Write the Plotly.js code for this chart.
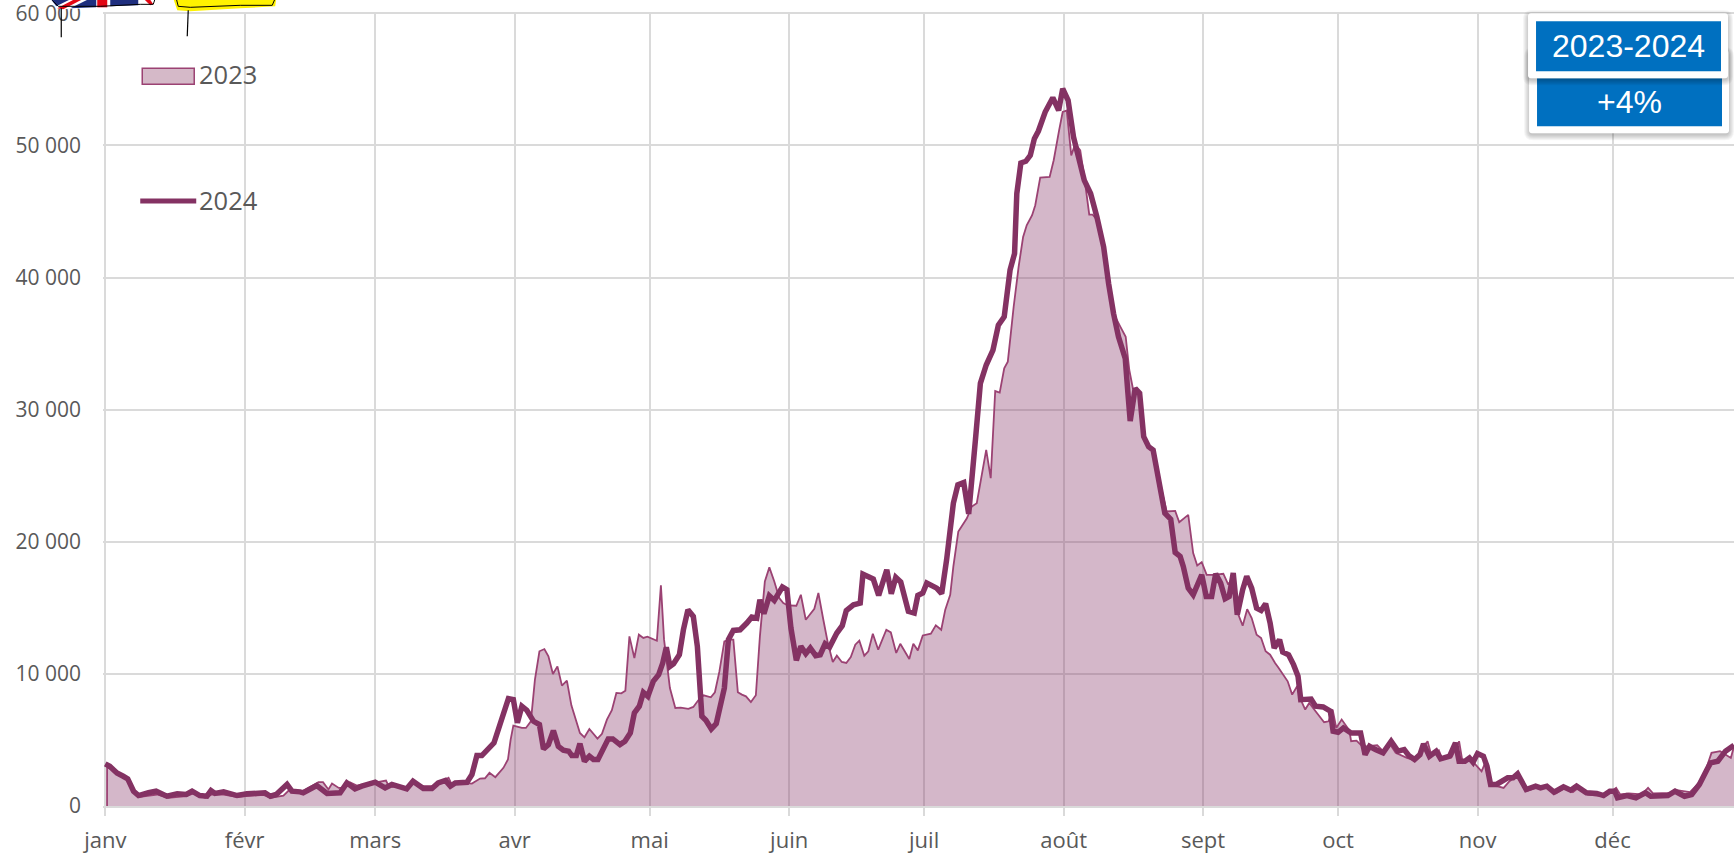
<!DOCTYPE html>
<html lang="fr">
<head>
<meta charset="utf-8">
<title>2023-2024</title>
<script src="https://cdn.plot.ly/plotly-3.0.1.min.js"></script>
<style>html,body{margin:0;padding:0;background:#fff;overflow:hidden}#chart{width:1734px;height:857px}</style>
</head>
<body>
<div id="chart"></div>
<script>
const monthLabels = ["janv","févr","mars","avr","mai","juin","juil","août","sept","oct","nov","déc"];
const monthDays = [0,31,60,91,121,152,182,213,244,274,305,335];
const yTickValues = [0,10000,20000,30000,40000,50000,60000];
const yTickLabels = ["0","10 000","20 000","30 000","40 000","50 000","60 000"];

const days2023 = [0.4,0.41,2.6,5.2,6.3,7.8,11.5,14,18,19.6,22.2,23.7,26.3,29.3,35.2,36.7,39.6,41,43.3,44.8,47.4,48.4,49.6,50.4,51.9,53,54.4,55.9,59.6,62.4,63,67,68.5,70.7,73,76.3,77,78.9,81.5,83.3,84.4,85.4,86.7,88.5,89.5,90.1,90.7,92.6,93.5,94.6,95.5,96.5,97.6,98.5,99.5,100.5,101.5,102.6,103.6,105.5,106.5,107.6,109.4,110.4,111.5,112.6,113.6,114.7,115.6,116.5,117.6,118.6,119.6,120.5,122.6,123.5,124.2,125.5,126.7,127.9,129.6,130.7,131.8,133,134.6,135.5,136.5,137.6,138.7,139.6,140.6,141.5,142.4,143.5,144.6,145.5,146.6,147.6,148.7,149.8,150.7,151.7,153.6,154.6,155.7,157.6,158.5,159.6,160.6,161.7,162.6,163.7,164.7,165.7,166.7,167.6,168.7,169.6,170.6,171.8,173.6,174.6,175.8,176.7,178.7,179.6,180.6,181.7,183.5,184.6,185.8,186.7,187.8,188.5,189.6,191.5,192.6,193.7,195.8,196.8,197.8,198.8,199.8,200.6,201.9,203,204,204.8,206,206.7,207.8,209.9,210.8,212,212.8,213.7,214.7,215.6,216.7,217.6,218.7,219.4,220.5,221.9,223,224.1,225.6,226.8,227.6,228.4,229.9,231.1,232.6,234.1,235.9,237.8,238.7,240.7,241.8,242.7,243.7,244.8,246.3,248.5,249.6,250.7,251.7,252.8,253.8,254.8,255.9,256.9,257.9,258.9,260,260.8,262.8,263.8,264.9,265.7,266.7,267.6,269,270.9,271.9,272.8,273.6,274.8,276.5,276.9,278.1,279.4,280.2,282.7,284,285.6,286.8,289.3,291,293.9,294.7,296.4,297.2,299.3,300.9,301.7,303.4,305.9,306.7,307.9,310.8,312.1,313.7,315.8,317.9,320.4,322.4,324.5,326.2,327.4,329.5,333.2,334.8,335.8,336.7,338.6,341.5,342.9,344,348.1,349.3,352.2,353.9,355.5,357,358.9,361.3,362];
const values2023 = [0,3010,2460,2000,1050,690,870,620,740,950,620,870,870,690,840,620,790,1250,1000,1300,1800,1800,1250,1700,1370,1370,1800,1550,1750,1930,1500,1370,1750,1500,1500,2130,1630,1750,1700,2080,2100,2510,2180,2890,3520,5030,6090,5910,5910,6410,9560,11710,11880,11330,9990,10570,9110,9490,7620,5530,5200,5830,5100,5460,6540,7250,8560,8530,8730,12840,11200,12970,12720,12810,12510,16700,12590,8930,7420,7450,7350,7500,8000,8380,8230,8610,10190,12460,12590,12590,8610,8430,8300,7870,8380,12840,17000,18060,17000,15740,15360,15180,15160,15990,14100,14930,16120,14100,12340,10900,11380,10900,10830,11280,12210,12510,11380,11710,13040,11830,13340,13140,11580,12280,11130,12280,11780,12910,13040,13670,13340,14860,15990,18130,20780,21780,22670,22920,26950,24810,31410,31290,33130,33630,37790,40810,43080,43960,44720,45470,47560,47620,48880,51140,52530,52650,49250,50130,49630,47610,44770,44770,44340,42070,39300,37280,36280,35520,33000,31610,31240,27710,26950,24940,22290,22340,21480,22040,19140,18210,18460,17500,17500,17580,16750,17370,14600,13650,14900,14230,12970,12720,11710,11450,10820,10450,9440,8430,9060,8050,7300,7800,7170,6340,6410,7300,5910,6540,5730,4900,4950,4520,4520,4600,4150,4650,4020,3640,3460,4900,3890,4220,3520,3720,4900,3260,3570,2630,3260,1630,1370,1880,2260,1120,1370,1370,950,1370,1050,1370,870,740,1120,1370,870,950,870,1370,950,1000,1200,1050,1630,2510,4020,4150,3640,4520];

const days2024 = [0,1,2.6,4,5,6.3,7.4,9.6,11.3,13.7,16,18,19.3,21,22.6,23.5,24.4,26.3,29.3,31.5,35.5,36.7,38,40.4,41.5,43.3,44,47,49.3,52.2,53.7,55.5,57,60,62.2,63.7,67,68.4,70.7,72.6,74,75.6,76.7,77.8,80.4,81.5,82.6,83.7,86.4,89.6,90.7,91.6,92.6,93.7,95.2,96.5,97.4,98.5,99.6,100.7,101.8,103,103.7,104.7,105.5,106.5,107.6,108.5,109.5,111.8,112.8,114.4,115.5,116.7,117.6,118.7,119.6,120.6,121.8,123,123.9,124.7,125.5,126.3,127.6,128.5,129.5,130.7,131.6,132.6,133.5,134.7,135.8,137.6,138.5,139.6,141.1,142.6,143.7,144.8,145.5,146.4,147.6,148.7,150.5,151.5,152.4,153.6,154.6,155.7,156.7,157.9,158.9,160,161,162.6,163.8,164.7,166.3,167.8,168.4,170.7,171.9,173.7,174.7,175.7,176.8,178.5,179.8,180.6,181.7,182.6,184.8,185.9,187,188.5,189.5,190.8,191.9,193.4,194.5,195.8,197.3,198.5,199.8,201.1,202.1,202.6,203.5,204.6,205.6,206.5,207.4,208.9,210.6,211.9,212.8,214,215.2,216.3,217.6,219,220.4,221.9,223,224.1,225.2,226.7,227.3,227.8,228.9,229.9,230.8,231.9,232.9,234.4,235.5,236.8,237.8,238.9,239.6,240.7,241.8,243.7,244.7,245.9,246.8,247.9,248.9,249.8,250.7,251.6,252.8,253.7,254.8,255.9,256.9,257.9,258.9,259.8,261,261.7,263,264.1,265.1,265.7,268,269,270.7,272.3,272.9,274,275.2,276.9,279,280,281,282.3,284,285.8,287.3,288.7,289.7,291,292.2,293,294.3,295.8,296.8,298.8,300.1,300.9,302.2,303.2,304,305,306.3,307.1,307.9,309.2,311.7,312.9,313.9,315.8,317.9,319,320.4,322,324.1,325.7,327,329.2,331.5,333,334.4,335.5,336.1,338.2,340.2,342.3,343.5,347.3,348.9,351,352.6,354.3,356,356.8,358.4,360.1,362];
const values2024 = [3190,3010,2500,2250,2050,1120,790,1000,1120,740,920,870,1120,790,740,1170,950,1070,790,920,1000,740,870,1630,1120,1070,1000,1550,950,1000,1750,1300,1500,1800,1370,1630,1300,1880,1320,1320,1750,1930,1500,1750,1800,2380,3820,3820,4780,8130,8050,6290,7550,7250,6410,6160,4320,4650,5710,4520,4220,4150,3820,3820,4720,3390,3770,3520,3520,5080,5080,4650,4900,5530,7040,7550,8600,8300,9440,9940,10820,12010,10570,10770,11450,13340,14850,14350,12080,6790,6490,5830,6230,8930,12590,13290,13340,13850,14300,14220,15610,14550,15910,15560,16570,16370,13470,11020,12080,11530,11960,11380,11450,12280,12030,13090,13650,14800,15230,15360,17550,17180,15940,17880,16070,17300,16950,14730,14600,15940,16120,16870,16490,16070,18640,22920,24310,24480,22110,27710,31990,33380,34510,36400,37030,40560,41820,46360,48670,48800,49250,50510,51090,52530,53610,52650,54290,53410,50640,49130,47360,46360,44590,42320,39550,37280,35520,33880,31240,29130,31610,31240,27960,27200,26950,24180,22170,21710,19190,18890,18130,16490,15990,17500,15860,15860,17580,16870,15690,15860,17630,14480,16370,17380,16490,14980,14800,15310,13850,11960,12590,11650,11450,10700,9820,8050,8100,7550,7500,7170,5660,5580,5910,5530,5530,3890,4520,4270,4020,4900,4150,4270,3820,3520,3890,4700,3770,4150,3570,3770,4780,3390,3390,3640,3310,3970,3770,3010,1630,1630,2130,2130,2430,1250,1500,1370,1500,1050,1450,1200,1500,1000,950,790,1120,1120,620,790,620,1000,740,790,1120,740,870,1630,2760,3260,3390,4150,4600];

const W = 1734, H = 857, L = 102.75, T = 11.68, B = 806.5;
const px = x => (x - L) / (W - L);
const py = y => (B - y) / (B - T);
const pt = (x, y) => px(x) + ',' + py(y);
const paperPath = pts => 'M' + pts.map(p => pt(p[0], p[1])).join('L') + 'Z';
const openPath = pts => 'M' + pts.map(p => pt(p[0], p[1])).join('L');
const poly = (pts, fill) => ({type:'path', xref:'paper', yref:'paper', layer:'above', path:paperPath(pts), fillcolor:fill, line:{width:0}});
const stroke = (pts, c, w) => ({type:'path', xref:'paper', yref:'paper', layer:'above', path:openPath(pts), line:{color:c, width:w}});
const rect = (x0,y0,x1,y1,fill,lc,lw) => ({type:'rect', xref:'paper', yref:'paper', layer:'above', x0:px(x0), x1:px(x1), y0:py(y1), y1:py(y0), fillcolor:fill, line:lc ? {color:lc, width:lw} : {width:0}});
const round = (x0,y0,x1,y1,r,fill) => ({type:'path', xref:'paper', yref:'paper', layer:'above', fillcolor:fill, line:{width:0},
  path:'M'+pt(x0+r,y0)+'L'+pt(x1-r,y0)+'Q'+pt(x1,y0)+' '+pt(x1,y0+r)+'L'+pt(x1,y1-r)+'Q'+pt(x1,y1)+' '+pt(x1-r,y1)+'L'+pt(x0+r,y1)+'Q'+pt(x0,y1)+' '+pt(x0,y1-r)+'L'+pt(x0,y0+r)+'Q'+pt(x0,y0)+' '+pt(x0+r,y0)+'Z'});

function card(x0,y0,x1,y1){
  const out = [];
  [6,5,4,3,2,1].forEach(s => {
    out.push(round(x0-s+1, y0-s+3, x1+s-1, y1+s+1, s+3, 'rgba(0,0,0,0.04)'));
  });
  out.push(round(x0,y0,x1,y1,3,'#ffffff'));
  return out;
}

const shapes = [].concat(
  card(1529,50,1729,133),
  [rect(1537,78,1722,126,'#0070C0')],
  card(1528,13,1728,78),
  [rect(1536,21,1721,71,'#0070C0')],
  [rect(142,68,194,84,'#D5B9C8','#9B4273',1.5)],
  [stroke([[140,201],[196,201]],'#843263',5)],
  // cropped decorations at the top edge
  [poly([[50,-2],[156,-2],[153,5],[140,6],[62,9],[56,8]],'#ffffff')],
  [poly([[50,-2],[72,-2],[56,6]],'#1F2F7F')],
  [poly([[70,8],[96,7],[96,-2],[90,-2]],'#1F2F7F')],
  [poly([[110,6],[138,5],[138,-2],[110,-2]],'#1F2F7F')],
  [poly([[57,8],[63,9],[84,-2],[76,-2]],'#E30613')],
  [poly([[97,-2],[107,-2],[107,7],[97,7]],'#E30613')],
  [poly([[143,-2],[149,-2],[153,4],[150,5]],'#E30613')],
  [stroke([[52,0],[58,6],[100,6],[140,4],[153,4],[155,-2]],'#000000',1)],
  [poly([[173,-2],[276,-2],[275,6],[240,8],[190,11],[177,10]],'#FFF200')],
  [stroke([[176,-2],[178,6],[190,7],[240,5],[272,5],[275,-2]],'#000000',1)],
  [stroke([[61,8],[61,37]],'#000000',1.2)],
  [stroke([[188,10],[187,36]],'#000000',1.2)]
);

const anno = (x,y,t,size,color,fam,anchor) => ({xref:'paper', yref:'paper', x:px(x), y:py(y), text:t, showarrow:false, xanchor:anchor||'center', yanchor:'middle', font:{size:size, color:color, family:fam}});
const annotations = [
  anno(197,74,'2023',25.5,'#595959','"Open Sans", sans-serif','left'),
  anno(197,200,'2024',25.5,'#595959','"Open Sans", sans-serif','left'),
  anno(1628,46,'2023-2024',32,'#ffffff','"Liberation Sans", Arial, sans-serif'),
  anno(1629,102,'+4%',32,'#ffffff','"Liberation Sans", Arial, sans-serif')
];

const traces = [
  {type:'scatter', mode:'lines', name:'2023', x:days2023, y:values2023, fill:'tozeroy', fillcolor:'rgba(132,50,99,0.35)', line:{color:'#9B4273', width:1.8, simplify:false}},
  {type:'scatter', mode:'lines', name:'2024', x:days2024, y:values2024, line:{color:'#843263', width:5.5, simplify:false}}
];

const gridC = '#DADADA';
const layout = {
  width:W, height:H,
  margin:{l:L, r:0, t:T, b:H-B, pad:0},
  paper_bgcolor:'#ffffff', plot_bgcolor:'#ffffff',
  showlegend:false,
  font:{family:'"Open Sans", sans-serif', color:'#595959', size:21},
  xaxis:{
    type:'linear', range:[-0.5,362], tickmode:'array', tickvals:monthDays, ticktext:monthLabels,
    showgrid:true, gridcolor:gridC, gridwidth:2, zeroline:false,
    showline:true, linecolor:gridC, linewidth:2,
    ticks:'outside', ticklen:8, tickwidth:2, tickcolor:gridC, ticklabelstandoff:6,
    tickfont:{size:22, color:'#595959'}, automargin:false
  },
  yaxis:{
    type:'linear', range:[0,60100], tickmode:'array', tickvals:yTickValues, ticktext:yTickLabels,
    showgrid:true, gridcolor:gridC, gridwidth:2, zeroline:false, showline:false,
    ticks:'', ticklabelstandoff:21, ticklabeloverflow:'allow',
    tickfont:{size:21, color:'#595959'}, automargin:false
  },
  shapes:shapes, annotations:annotations
};
Plotly.newPlot('chart', traces, layout, {displayModeBar:false, staticPlot:true});
</script>
</body>
</html>
